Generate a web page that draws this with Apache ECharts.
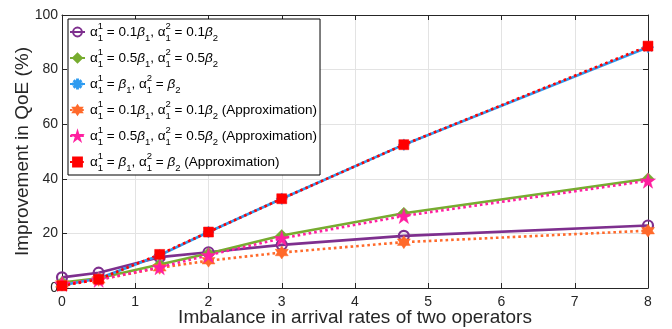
<!DOCTYPE html>
<html>
<head>
<meta charset="utf-8">
<script src="https://cdn.jsdelivr.net/npm/echarts@6/dist/echarts.min.js"></script>
<style>
  html, body { margin: 0; padding: 0; background: #fff; }
  #chart { width: 672px; height: 329px; }
</style>
</head>
<body>
<div id="chart"></div>
<script>
// Imbalance ratio between the two operators' arrival rates
const imbalance = [0, 0.5, 4 / 3, 2, 3, 14 / 3, 8];

// QoE improvement (%) for each weighting setting
const exact01 = [3.9, 5.6, 11.3, 13.1, 15.8, 19.1, 22.9];
const exact05 = [2.0, 3.6, 8.6, 12.6, 19.2, 27.4, 40.0];
const exact10 = [1.0, 3.5, 12.0, 20.5, 32.7, 52.5, 88.2];
const approx01 = [1.5, 3.0, 7.4, 10.0, 13.0, 16.8, 21.0];
const approx05 = [1.5, 3.0, 7.6, 12.0, 18.2, 26.4, 39.3];
const approx10 = [0.8, 3.2, 12.3, 20.5, 32.7, 52.5, 88.6];

const xTicks = [0, 1, 2, 3, 4, 5, 6, 7, 8];
const yTicks = [0, 20, 40, 60, 80, 100];

const seriesNames = ['e01', 'e05', 'e10', 'a01', 'a05', 'a10'];

const legendLabels = {
  e01: '{a|α}{sp|1}{sb|1}{t| = 0.1}{b|β}{sb2|1}{t|, }{a|α}{sp|2}{sb|1}{t| = 0.1}{b|β}{sb2|2}',
  e05: '{a|α}{sp|1}{sb|1}{t| = 0.5}{b|β}{sb2|1}{t|, }{a|α}{sp|2}{sb|1}{t| = 0.5}{b|β}{sb2|2}',
  e10: '{a|α}{sp|1}{sb|1}{t| = }{b|β}{sb2|1}{t|, }{a|α}{sp|2}{sb|1}{t| = }{b|β}{sb2|2}',
  a01: '{a|α}{sp|1}{sb|1}{t| = 0.1}{b|β}{sb2|1}{t|, }{a|α}{sp|2}{sb|1}{t| = 0.1}{b|β}{sb2|2}{t| (Approximation)}',
  a05: '{a|α}{sp|1}{sb|1}{t| = 0.5}{b|β}{sb2|1}{t|, }{a|α}{sp|2}{sb|1}{t| = 0.5}{b|β}{sb2|2}{t| (Approximation)}',
  a10: '{a|α}{sp|1}{sb|1}{t| = }{b|β}{sb2|1}{t|, }{a|α}{sp|2}{sb|1}{t| = }{b|β}{sb2|2}{t| (Approximation)}'
};

const FONT = '"Liberation Sans", Arial, Helvetica, sans-serif';
const INK = '#262626';

// marker shapes
const pentagram = 'path://M0,-10L2.245,-3.09L9.511,-3.09L3.633,1.18L5.878,8.09L0,3.82L-5.878,8.09L-3.633,1.18L-9.511,-3.09L-2.245,-3.09Z';
const hexagram = 'path://M0,-10L8.66,5L-8.66,5Z M0,10L-8.66,-5L8.66,-5Z';
const asterisk = 'path://M-1,-10L1,-10L1,10L-1,10Z M-10,-1L10,-1L10,1L-10,1Z M-7.78,-6.36L-6.36,-7.78L7.78,6.36L6.36,7.78Z M6.36,-7.78L7.78,-6.36L-6.36,7.78L-7.78,6.36Z';

function pairs(ys) { return imbalance.map((x, i) => [x, ys[i]]); }

function line(name, ys, color, dotted, symbol, size, hollow) {
  return {
    name: name,
    type: 'line',
    data: pairs(ys),
    symbol: symbol,
    symbolSize: size,
    showSymbol: true,
    lineStyle: { color: color, width: 2.6, type: dotted ? [2.6, 3] : 'solid' },
    itemStyle: hollow
      ? { color: 'rgba(255,255,255,0)', borderColor: color, borderWidth: 2.2 }
      : { color: color, borderColor: color, borderWidth: 0.5 },
    emphasis: { disabled: true },
    animation: false
  };
}

const chart = echarts.init(document.getElementById('chart'), null, { renderer: 'canvas' });

const supSub = { fontFamily: FONT, fontSize: 9.5, color: '#000' };

chart.setOption({
  backgroundColor: '#fff',
  animation: false,
  grid: { left: 62, right: 24, top: 15, bottom: 41, containLabel: false, outerBoundsMode: 'none' },
  xAxis: [{
    type: 'value', min: 0, max: 8, interval: 1,
    name: 'Imbalance in arrival rates of two operators',
    nameLocation: 'middle', nameGap: 20, nameMoveOverlap: false,
    nameTextStyle: { fontFamily: FONT, fontSize: 19, color: INK },
    axisLine: { show: true, onZero: false, lineStyle: { color: INK, width: 1 } },
    axisTick: { show: true, inside: true, length: 5, lineStyle: { color: INK } },
    axisLabel: { fontFamily: FONT, fontSize: 14, color: INK, margin: 7,
      formatter: v => xTicks.includes(v) ? String(v) : '' },
    splitLine: { show: true, lineStyle: { color: '#e3e3e3', width: 1 } }
  }, {
    type: 'value', min: 0, max: 8, interval: 1, position: 'top',
    axisLine: { show: true, onZero: false, lineStyle: { color: INK, width: 1 } },
    axisTick: { show: true, inside: true, length: 5, lineStyle: { color: INK } },
    axisLabel: { show: false }, splitLine: { show: false }
  }],
  yAxis: [{
    type: 'value', min: 0, max: 100, interval: 20,
    name: 'Improvement in QoE (%)',
    nameLocation: 'middle', nameGap: 30, nameMoveOverlap: false,
    nameTextStyle: { fontFamily: FONT, fontSize: 19, color: INK },
    axisLine: { show: true, onZero: false, lineStyle: { color: INK, width: 1 } },
    axisTick: { show: true, inside: true, length: 5, lineStyle: { color: INK } },
    axisLabel: { fontFamily: FONT, fontSize: 14, color: INK, margin: 4,
      formatter: v => yTicks.includes(v) ? String(v) : '' },
    splitLine: { show: true, lineStyle: { color: '#e3e3e3', width: 1 } }
  }, {
    type: 'value', min: 0, max: 100, interval: 20, position: 'right',
    axisLine: { show: true, onZero: false, lineStyle: { color: INK, width: 1 } },
    axisTick: { show: true, inside: true, length: 5, lineStyle: { color: INK } },
    axisLabel: { show: false }, splitLine: { show: false }
  }],
  legend: {
    orient: 'vertical',
    left: 68, top: 19,
    backgroundColor: '#fff',
    borderColor: '#000', borderWidth: 1,
    padding: [2, 3, 2, 1],
    itemGap: 4,
    itemWidth: 15, itemHeight: 11,
    itemTextGap: 1,
    data: seriesNames,
    formatter: name => legendLabels[name],
    textStyle: {
      fontFamily: FONT, fontSize: 13.5, color: '#000', lineHeight: 22,
      rich: {
        t: { fontFamily: FONT, fontSize: 13.5, color: '#000' },
        a: { fontFamily: FONT, fontSize: 13.5, color: '#000' },
        b: { fontFamily: FONT, fontSize: 13.5, color: '#000', fontStyle: 'italic' },
        sp: Object.assign({}, supSub, { width: 0.01, verticalAlign: 'top', lineHeight: 12 }),
        sb: Object.assign({}, supSub, { verticalAlign: 'bottom', lineHeight: 10 }),
        sb2: Object.assign({}, supSub, { verticalAlign: 'bottom', lineHeight: 10 })
      }
    }
  },
  series: [
    line('e01', exact01, '#7E2F8E', false, 'circle', 10, true),
    line('e05', exact05, '#77AC30', false, 'diamond', 12, false),
    line('e10', exact10, '#2E9BF0', false, asterisk, 11, false),
    line('a01', approx01, '#FF6A2B', true, hexagram, 13, false),
    line('a05', approx05, '#FF1FA0', true, pentagram, 15, false),
    line('a10', approx10, '#FF0000', true, 'rect', 10, false)
  ]
});
</script>
</body>
</html>
